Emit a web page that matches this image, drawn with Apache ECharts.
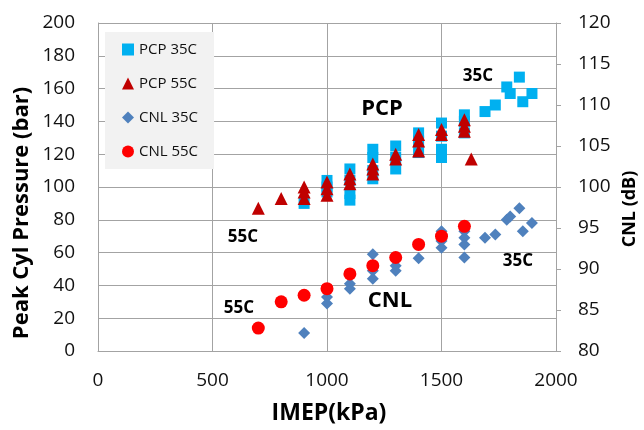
<!DOCTYPE html>
<html>
<head>
<meta charset="utf-8">
<script src="https://cdn.jsdelivr.net/npm/echarts@6/dist/echarts.min.js"></script>
<style>
html,body{margin:0;padding:0;background:#fff;}
#chart{width:644px;height:430px;}
</style>
</head>
<body>
<div id="chart"></div>
<script>
// ---- data ----
var pcp35X = [900, 1000, 1000, 1000, 1100, 1100, 1100, 1100, 1200, 1200, 1200, 1200, 1300, 1300, 1300, 1400, 1400, 1400, 1500, 1500, 1500, 1500, 1600, 1600, 1600, 1690, 1735, 1785, 1800, 1840, 1855, 1895];
var pcp35Y = [90, 104, 100, 97, 111, 104, 96, 92, 123, 118, 110, 105, 125, 118, 111, 133, 128, 121, 139, 131, 123, 118, 144, 140, 133, 146, 150, 161, 157, 167, 152, 157];

var pcp55X = [700, 800, 900, 900, 900, 1000, 1000, 1000, 1100, 1100, 1100, 1200, 1200, 1200, 1300, 1300, 1400, 1400, 1400, 1500, 1500, 1600, 1600, 1600, 1630];
var pcp55Y = [87, 93, 100, 97, 93, 103, 99, 95, 108, 105, 102, 114, 111, 108, 120, 117, 132, 128, 122, 135, 132, 141, 137, 134, 117];

var cnl35X = [900, 1000, 1000, 1100, 1100, 1200, 1200, 1200, 1300, 1300, 1400, 1500, 1500, 1500, 1600, 1600, 1600, 1600, 1690, 1735, 1785, 1800, 1840, 1855, 1895];
var cnl35Y = [82.2, 86.6, 85.8, 88.2, 87.6, 91.8, 89.8, 88.8, 90.4, 89.8, 91.3, 94.6, 93.4, 92.6, 94.6, 93.8, 93.0, 91.4, 93.8, 94.2, 96.0, 96.4, 97.4, 94.6, 95.6];

var cnl55X = [700, 800, 900, 1000, 1100, 1200, 1300, 1400, 1500, 1600];
var cnl55Y = [82.8, 86.0, 86.8, 87.6, 89.4, 90.4, 91.4, 93.0, 94.0, 95.2];

var seriesNames = ['PCP 35C', 'PCP 55C', 'CNL 35C', 'CNL 55C'];
var xTicks = [0, 500, 1000, 1500, 2000];
var leftTicks = [0, 200, 20];
var rightTicks = [80, 120, 5];

function pairs(xs, ys) { return xs.map(function (x, i) { return [x, ys[i]]; }); }
function plain(v) { return String(v); }

var FONT = 'Open Sans';
var chart = echarts.init(document.getElementById('chart'), null, {renderer: 'canvas'});
var grey = '#a3a3a3';

var option = {
  animation: false,
  backgroundColor: '#fff',
  grid: {left: 98, right: 88, top: 23, bottom: 79, containLabel: false},
  legend: {
    orient: 'vertical', left: 105, top: 32,
    backgroundColor: '#f2f2f2',
    padding: [9, 16, 9, 17],
    itemWidth: 12, itemHeight: 12, itemGap: 17,
    textStyle: {fontFamily: FONT, fontSize: 15, color: '#111', lineHeight: 17},
    data: [
      {name: seriesNames[0], icon: 'rect'},
      {name: seriesNames[1], icon: 'triangle'},
      {name: seriesNames[2], icon: 'diamond'},
      {name: seriesNames[3], icon: 'circle'}
    ]
  },
  xAxis: {
    type: 'value', min: xTicks[0], max: xTicks[xTicks.length - 1], interval: xTicks[1] - xTicks[0],
    axisLine: {show: true, lineStyle: {color: grey, width: 1}},
    axisTick: {show: false},
    splitLine: {show: true, lineStyle: {color: grey, width: 1}},
    axisLabel: {fontFamily: FONT, fontSize: 19, color: '#111', margin: 20, formatter: plain}
  },
  yAxis: [{
    type: 'value', min: leftTicks[0], max: leftTicks[1], interval: leftTicks[2],
    axisLine: {show: true, lineStyle: {color: grey, width: 1}},
    axisTick: {show: false},
    splitLine: {show: true, lineStyle: {color: grey, width: 1}},
    axisLabel: {fontFamily: FONT, fontSize: 19, color: '#111', margin: 23, formatter: plain}
  }, {
    type: 'value', position: 'right', min: rightTicks[0], max: rightTicks[1], interval: rightTicks[2],
    axisLine: {show: true, lineStyle: {color: grey, width: 1}},
    axisTick: {show: true, length: 5, lineStyle: {color: grey}},
    splitLine: {show: false},
    axisLabel: {fontFamily: FONT, fontSize: 19, color: '#111', margin: 22, formatter: plain}
  }],
  series: [
    {name: seriesNames[0], type: 'scatter', yAxisIndex: 0, symbol: 'rect', symbolSize: 11,
     itemStyle: {color: '#00b0f0', opacity: 1}, data: pairs(pcp35X, pcp35Y)},
    {name: seriesNames[1], type: 'scatter', yAxisIndex: 0, symbol: 'triangle', symbolSize: 13,
     itemStyle: {color: '#c00000', opacity: 1}, data: pairs(pcp55X, pcp55Y)},
    {name: seriesNames[2], type: 'scatter', yAxisIndex: 1, symbol: 'diamond', symbolSize: 12,
     itemStyle: {color: '#4f81bd', opacity: 1}, data: pairs(cnl35X, cnl35Y)},
    {name: seriesNames[3], type: 'scatter', yAxisIndex: 1, symbol: 'circle', symbolSize: 13,
     itemStyle: {color: '#ff0000', opacity: 1}, data: pairs(cnl55X, cnl55Y)}
  ],
  graphic: [
    {type: 'text', x: 22, y: 213, rotation: Math.PI / 2,
     style: {text: 'Peak Cyl Pressure (bar)', fontFamily: FONT, fontWeight: 'bold', fontSize: 22, fill: '#000', align: 'center', verticalAlign: 'middle'}},
    {type: 'text', x: 630, y: 209, rotation: Math.PI / 2,
     style: {text: 'CNL (dB)', fontFamily: FONT, fontWeight: 'bold', fontSize: 18, fill: '#000', align: 'center', verticalAlign: 'middle'}},
    {type: 'text', x: 329, y: 413,
     style: {text: 'IMEP(kPa)', fontFamily: FONT, fontWeight: 'bold', fontSize: 23, fill: '#000', align: 'center', verticalAlign: 'middle'}},
    {type: 'text', x: 382, y: 109,
     style: {text: 'PCP', fontFamily: FONT, fontWeight: 'bold', fontSize: 22, fill: '#000', align: 'center', verticalAlign: 'middle'}},
    {type: 'text', x: 390, y: 301,
     style: {text: 'CNL', fontFamily: FONT, fontWeight: 'bold', fontSize: 22, fill: '#000', align: 'center', verticalAlign: 'middle'}},
    {type: 'text', x: 478, y: 76,
     style: {text: '35C', fontFamily: FONT, fontWeight: 'bold', fontSize: 17, fill: '#000', align: 'center', verticalAlign: 'middle'}},
    {type: 'text', x: 518, y: 261,
     style: {text: '35C', fontFamily: FONT, fontWeight: 'bold', fontSize: 17, fill: '#000', align: 'center', verticalAlign: 'middle'}},
    {type: 'text', x: 243, y: 237,
     style: {text: '55C', fontFamily: FONT, fontWeight: 'bold', fontSize: 17, fill: '#000', align: 'center', verticalAlign: 'middle'}},
    {type: 'text', x: 239, y: 308,
     style: {text: '55C', fontFamily: FONT, fontWeight: 'bold', fontSize: 17, fill: '#000', align: 'center', verticalAlign: 'middle'}}
  ]
};
chart.setOption(option);
</script>
</body>
</html>
